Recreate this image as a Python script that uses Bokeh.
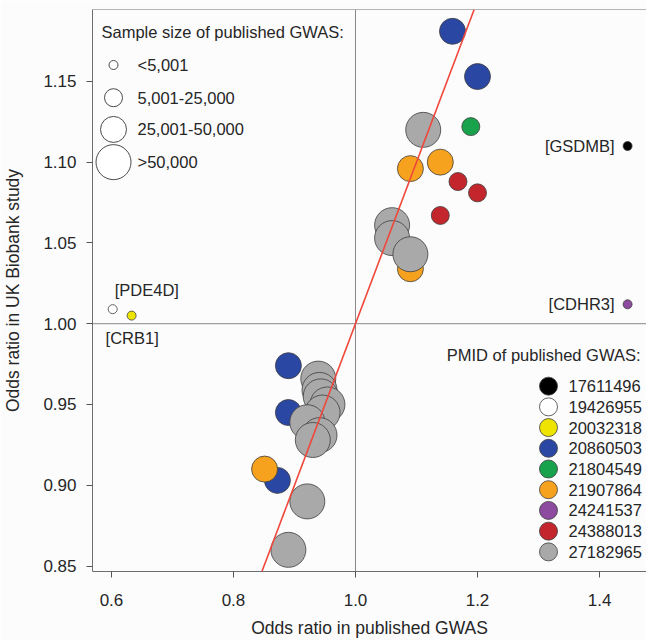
from bokeh.plotting import figure
from bokeh.models import Range1d, FixedTicker, PrintfTickFormatter, Span, Slope, ColumnDataSource
from bokeh.core.properties import value
from bokeh.embed import file_html
from bokeh.resources import INLINE

# ---------------- data ----------------
or_gwas = [1.159, 1.200, 1.189, 1.111, 1.446, 1.090, 1.139, 1.168, 1.200, 1.139,
           1.060, 1.060, 1.090, 1.090, 0.602, 0.633, 1.446,
           0.890, 0.890, 0.872, 0.851,
           0.939, 0.941, 0.943, 0.954, 0.946, 0.921, 0.941, 0.930, 0.921, 0.890]
or_ukb = [1.181, 1.153, 1.122, 1.120, 1.110, 1.096, 1.100, 1.088, 1.081, 1.067,
          1.061, 1.053, 1.034, 1.043, 1.009, 1.005, 1.012,
          0.974, 0.945, 0.903, 0.910,
          0.966, 0.959, 0.955, 0.950, 0.945, 0.939, 0.931, 0.928, 0.890, 0.860]
pmid = ["20860503", "20860503", "21804549", "27182965", "17611496", "21907864", "21907864",
        "24388013", "24388013", "24388013",
        "27182965", "27182965", "21907864", "27182965", "19426955", "20032318", "24241537",
        "20860503", "20860503", "20860503", "21907864",
        "27182965", "27182965", "27182965", "27182965", "27182965", "27182965", "27182965",
        "27182965", "27182965", "27182965"]
sample_size = ["25,001-50,000", "25,001-50,000", "5,001-25,000", ">50,000", "<5,001",
               "25,001-50,000", "25,001-50,000", "5,001-25,000", "5,001-25,000", "5,001-25,000",
               ">50,000", ">50,000", "25,001-50,000", ">50,000", "<5,001", "<5,001", "<5,001",
               "25,001-50,000", "25,001-50,000", "25,001-50,000", "25,001-50,000",
               ">50,000", ">50,000", ">50,000", ">50,000", ">50,000", ">50,000", ">50,000",
               ">50,000", ">50,000", ">50,000"]
gene = ["", "", "", "", "[GSDMB]", "", "", "", "", "",
        "", "", "", "", "[PDE4D]", "[CRB1]", "[CDHR3]",
        "", "", "", "",
        "", "", "", "", "", "", "", "", "", ""]

pmid_levels = ["17611496", "19426955", "20032318", "20860503", "21804549",
               "21907864", "24241537", "24388013", "27182965"]
pmid_colors = ["#000000", "#ffffff", "#eee400", "#2b47a4", "#17a24b",
               "#f6a21e", "#8d4b9f", "#c3262c", "#a9a9a9"]
size_levels = ["<5,001", "5,001-25,000", "25,001-50,000", ">50,000"]
x_ticks = [0.6, 0.8, 1.0, 1.2, 1.4]
y_ticks = [0.85, 0.90, 0.95, 1.00, 1.05, 1.10, 1.15]

# ---------------- styling ----------------
FONT = "Liberation Sans"
TXT = "#262626"
BG = "#fcfcfd"
FS = "16.5px"
size_px = dict(zip(size_levels, [9, 18, 26, 35]))
color_of = dict(zip(pmid_levels, pmid_colors))

X0, X1 = 0.5689, 1.4770
Y0, Y1 = 0.8466, 1.1945
W, H = 646, 640
BL, BT, BB = 92, 9, 64
FW, FH = W - BL, H - BT - BB


def fx(px):  # page pixel -> data x (legend placement)
    return X0 + (px - BL) / FW * (X1 - X0)


def fy(py):
    return Y1 - (py - BT) / FH * (Y1 - Y0)


p = figure(width=W, height=H, x_range=Range1d(X0, X1), y_range=Range1d(Y0, Y1),
           output_backend="svg", toolbar_location=None,
           min_border_left=BL, min_border_right=0, min_border_top=BT, min_border_bottom=BB,
           background_fill_color=BG, border_fill_color=BG)
p.xgrid.visible = False
p.ygrid.visible = False
p.outline_line_color = None

for ax in (p.xaxis[0], p.yaxis[0]):
    ax.axis_line_color = "#6e6e6e"
    ax.axis_line_width = 1
    ax.major_tick_out = 6
    ax.major_tick_in = 0
    ax.minor_tick_out = 0
    ax.minor_tick_in = 0
    ax.major_tick_line_color = "#555555"
    ax.major_label_text_font = FONT
    ax.major_label_text_font_size = "17px"
    ax.major_label_text_color = TXT
    ax.axis_label_text_font = FONT
    ax.axis_label_text_font_size = "17.5px"
    ax.axis_label_text_font_style = "normal"
    ax.axis_label_text_color = TXT

p.xaxis.ticker = FixedTicker(ticks=x_ticks)
p.yaxis.ticker = FixedTicker(ticks=y_ticks)
p.xaxis.formatter = PrintfTickFormatter(format="%.1f")
p.yaxis.formatter = PrintfTickFormatter(format="%.2f")
p.xaxis.axis_label = "Odds ratio in published GWAS"
p.yaxis.axis_label = "Odds ratio in UK Biobank study"
p.xaxis.major_label_standoff = 16
p.xaxis.axis_label_standoff = 9
p.yaxis.major_label_standoff = 10
p.yaxis.axis_label_standoff = 17

# frame top + reference lines
p.add_layout(Span(location=Y1, dimension="width", line_color="#6e6e6e", line_width=1))
p.add_layout(Span(location=1.0, dimension="width", line_color="#8a8784", line_width=1))
p.add_layout(Span(location=1.0, dimension="height", line_color="#8a8784", line_width=1))
p.add_layout(Slope(gradient=1, y_intercept=0, line_color="#f0473a", line_width=1.6))

# data points (drawn in PMID order so later groups lie on top)
order = sorted(range(len(or_gwas)), key=lambda i: pmid_levels.index(pmid[i]))
src = ColumnDataSource(dict(
    x=[or_gwas[i] for i in order],
    y=[or_ukb[i] for i in order],
    fill=[color_of[pmid[i]] for i in order],
    size=[size_px[sample_size[i]] for i in order],
))
p.scatter("x", "y", source=src, size="size", fill_color="fill", line_color="#3d3d3d",
          line_width=0.8, marker="circle")

# gene labels
lab_idx = [i for i, g in enumerate(gene) if g]
anchor = {"[GSDMB]": (-13, 0, "right"), "[CDHR3]": (-13, 0, "right"),
          "[PDE4D]": (2, -19, "left"), "[CRB1]": (-26, 22, "left")}
lsrc = ColumnDataSource(dict(
    x=[or_gwas[i] for i in lab_idx], y=[or_ukb[i] for i in lab_idx],
    t=[gene[i] for i in lab_idx],
    xo=[anchor[gene[i]][0] for i in lab_idx], yo=[anchor[gene[i]][1] for i in lab_idx],
    al=[anchor[gene[i]][2] for i in lab_idx]))
p.text("x", "y", text="t", source=lsrc, x_offset="xo", y_offset="yo", text_align="al",
       text_baseline="middle", text_font=value(FONT), text_font_size=FS, text_color=TXT)

# sample-size legend (top-left)
p.text([fx(101)], [fy(32)], text=["Sample size of published GWAS:"], text_baseline="middle",
       text_font=value(FONT), text_font_size=FS, text_color=TXT)
leg_y = [fy(v) for v in (65, 98, 130, 163)]
p.scatter([fx(113)] * 4, leg_y, size=[size_px[s] for s in size_levels], marker="circle",
          fill_color="#ffffff", line_color="#4a4a4a", line_width=1)
p.text([fx(137)] * 4, leg_y, text=size_levels, text_baseline="middle",
       text_font=value(FONT), text_font_size=FS, text_color=TXT)

# PMID legend (bottom-right)
p.text([fx(640)], [fy(358)], text=["PMID of published GWAS:"], text_align="right",
       text_baseline="middle", text_font=value(FONT), text_font_size=FS, text_color=TXT)
rows = [fy(389 + 20.9 * k) for k in range(len(pmid_levels))]
p.scatter([fx(548)] * len(rows), rows, size=18, marker="circle", fill_color=pmid_colors,
          line_color="#3d3d3d", line_width=0.8)
p.text([fx(568)] * len(rows), rows, text=pmid_levels, text_baseline="middle",
       text_font=value(FONT), text_font_size=FS, text_color=TXT)

open("out.html", "w").write(file_html(p, INLINE))
